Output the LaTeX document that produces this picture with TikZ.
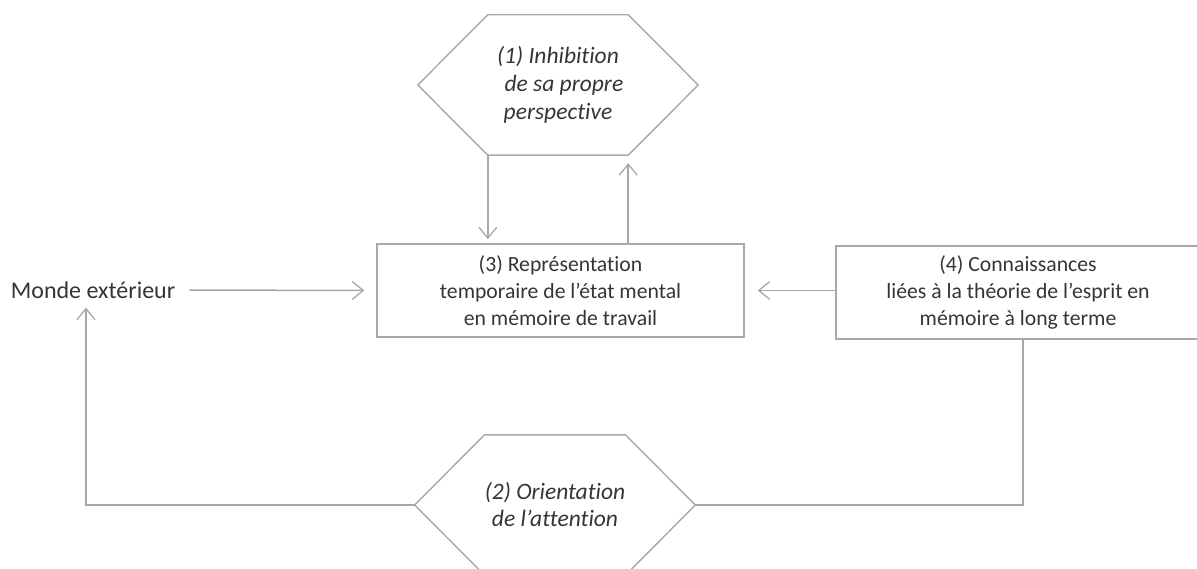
\documentclass[tikz,border=0pt]{standalone}
\usepackage{fontspec}
\setmainfont{Carlito}[Ligatures=NoCommon]
\usetikzlibrary{arrows.meta,calc}
\definecolor{linegray}{HTML}{A8A8A8}
\definecolor{textgray}{HTML}{353535}
\tikzset{
  boxtxt/.style={draw=linegray, line width=1.6pt, align=center, text=textgray, inner sep=0pt,
    font=\fontsize{21.7}{27}\selectfont},
  hextxt/.style={align=center, text=textgray, inner sep=0pt,
    font=\fontsize{23.5}{28}\selectfont\itshape},
  hexline/.style={draw=linegray, line width=1.4pt, line join=miter},
  conn/.style={draw=linegray, line width=1.5pt},
  arr/.style={conn, -{Straight Barb[length=11pt,width=18pt,line width=1.3pt]}},
}
\begin{document}
\begin{tikzpicture}[x=1pt,y=-1pt]
\useasboundingbox (0,0) rectangle (1197,569);
% hexagon 1
\node[hextxt, minimum width=140pt, minimum height=140pt] (h1) at (558,85) {(1) Inhibition\\ \hspace*{0.5em}de sa propre\\perspective};
\coordinate (h1l) at ([xshift=-70pt]h1.west);
\coordinate (h1r) at ([xshift=70pt]h1.east);
\draw[hexline] (h1.north west) -- (h1.north east) -- (h1r) -- (h1.south east) -- (h1.south west) -- (h1l) -- cycle;
% hexagon 2
\node[hextxt, minimum width=139pt, minimum height=140pt, font=\fontsize{23.5}{27}\selectfont\itshape] (h2) at (555,505) {(2) Orientation\\de l'attention};
\coordinate (h2l) at ([xshift=-70pt]h2.west);
\coordinate (h2r) at ([xshift=70pt]h2.east);
\draw[hexline] (h2.north west) -- (h2.north east) -- (h2r) -- (h2.south east) -- (h2.south west) -- (h2l) -- cycle;
% boxes
\node[boxtxt, minimum width=367pt, minimum height=93pt] (b3) at (560.5,290.5) {(3) Représentation\\temporaire de l'état mental\\en mémoire de travail};
\node[boxtxt, minimum width=364pt, minimum height=93pt] (b4) at (1018,292.5) {(4) Connaissances\\liées à la théorie de l'esprit en\\mémoire à long terme};
% monde
\node[text=textgray, font=\fontsize{24}{27}\selectfont, inner sep=0pt] (monde) at (93,290) {Monde extérieur};
% connectors
\coordinate (cl) at (86,505);
\coordinate (cr) at (1023,505);
\draw[arr, shorten >=4pt] (h1.south west) -- (h1.south west |- b3.north);
\draw[arr, shorten >=8pt] (b3.north -| h1.south east) -- (h1.south east);
\draw[arr, shorten <=14pt, shorten >=12pt] (monde.east) -- (b3.west);
\draw[arr, shorten >=13pt] (b4.west |- b3.east) -- (b3.east);
\draw[conn] (b4.south -| cr) -- (cr) -- (h2r);
\draw[arr, shorten >=9pt] (h2l) -- (cl) -- (cl |- monde.south);
\end{tikzpicture}
\end{document}
